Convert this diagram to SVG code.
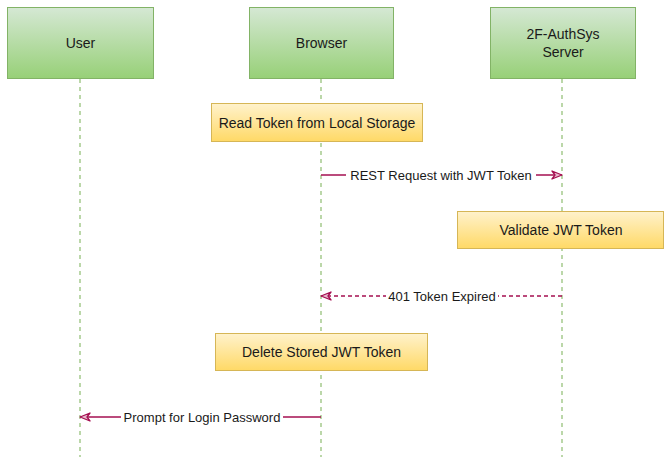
<svg xmlns="http://www.w3.org/2000/svg" width="664" height="457" viewBox="0 0 664 457">
  <style>
    .actor { stroke: #82b366; stroke-width: 1; fill: url(#greenFill); }
    .step { stroke: #d6b656; stroke-width: 1; fill: url(#yellowFill); }
    .lifeline { stroke: #97c27c; stroke-width: 1.3; stroke-dasharray: 4 4; fill: none; }
    .msg { stroke: #a50f50; stroke-width: 1.4; fill: none; }
    .reply { stroke: #a50f50; stroke-width: 1.4; fill: none; stroke-dasharray: 4 3; }
    .lbl { font-family: "Liberation Sans", Arial, sans-serif; font-size: 14px; fill: #1a1a1a; text-anchor: middle; dominant-baseline: central; }
    .elbl { font-family: "Liberation Sans", Arial, sans-serif; font-size: 13px; fill: #1a1a1a; text-anchor: middle; dominant-baseline: central; }
    .lblbg { fill: #ffffff; }
  </style>
  <defs>
    <linearGradient id="greenFill" x1="0" y1="0" x2="0" y2="1">
      <stop offset="0" stop-color="#d5e8d4"/>
      <stop offset="1" stop-color="#97d077"/>
    </linearGradient>
    <linearGradient id="yellowFill" x1="0" y1="0" x2="0" y2="1">
      <stop offset="0" stop-color="#fff2cc"/>
      <stop offset="1" stop-color="#ffd966"/>
    </linearGradient>
    <marker id="head" viewBox="0 0 12 10" refX="11" refY="5" markerWidth="12" markerHeight="10" markerUnits="userSpaceOnUse" orient="auto">
      <path d="M1,1 L11,5 L1,9 L4,5 Z" fill="#e8b8cc" stroke="#a50f50" stroke-width="1.3" stroke-linejoin="round"/>
    </marker>
  </defs>

  <rect width="664" height="457" fill="#ffffff"/>

  <!-- lifelines -->
  <g id="lifelines">
    <line class="lifeline" x1="80" y1="79" x2="80" y2="457"/>
    <line class="lifeline" x1="321" y1="79" x2="321" y2="457"/>
    <line class="lifeline" x1="562" y1="79" x2="562" y2="457"/>
  </g>

  <!-- participants -->
  <g id="user">
    <rect class="actor" x="7.5" y="7.5" width="146" height="71"/>
    <text class="lbl" x="80.5" y="43">User</text>
  </g>
  <g id="browser">
    <rect class="actor" x="249.5" y="7.5" width="144" height="71"/>
    <text class="lbl" x="321.5" y="43">Browser</text>
  </g>
  <g id="server">
    <rect class="actor" x="490.5" y="7.5" width="145" height="71"/>
    <text class="lbl" x="563" y="34">2F-AuthSys</text>
    <text class="lbl" x="563" y="52">Server</text>
  </g>

  <!-- activity steps -->
  <g id="read-token">
    <rect class="step" x="211.5" y="103.5" width="211" height="38"/>
    <text class="lbl" x="317" y="122.5">Read Token from Local Storage</text>
  </g>
  <g id="validate-token">
    <rect class="step" x="457.5" y="211.5" width="206" height="37"/>
    <text class="lbl" x="561" y="229.5">Validate JWT Token</text>
  </g>
  <g id="delete-token">
    <rect class="step" x="215.5" y="333.5" width="212" height="37"/>
    <text class="lbl" x="321.5" y="351.5">Delete Stored JWT Token</text>
  </g>

  <!-- messages -->
  <g id="connectors">
    <g id="rest-request">
      <line class="msg" x1="321" y1="175" x2="562" y2="175" marker-end="url(#head)"/>
      <rect class="lblbg" x="346" y="167" width="190" height="16"/>
      <text class="elbl" x="441" y="175">REST Request with JWT Token</text>
    </g>
    <g id="token-expired">
      <line class="reply" x1="562" y1="296" x2="321" y2="296" marker-end="url(#head)"/>
      <rect class="lblbg" x="386" y="288" width="112" height="16"/>
      <text class="elbl" x="442" y="296">401 Token Expired</text>
    </g>
    <g id="prompt-login">
      <line class="msg" x1="321" y1="417" x2="80" y2="417" marker-end="url(#head)"/>
      <rect class="lblbg" x="121" y="409" width="162" height="16"/>
      <text class="elbl" x="202" y="417">Prompt for Login Password</text>
    </g>
  </g>
</svg>
